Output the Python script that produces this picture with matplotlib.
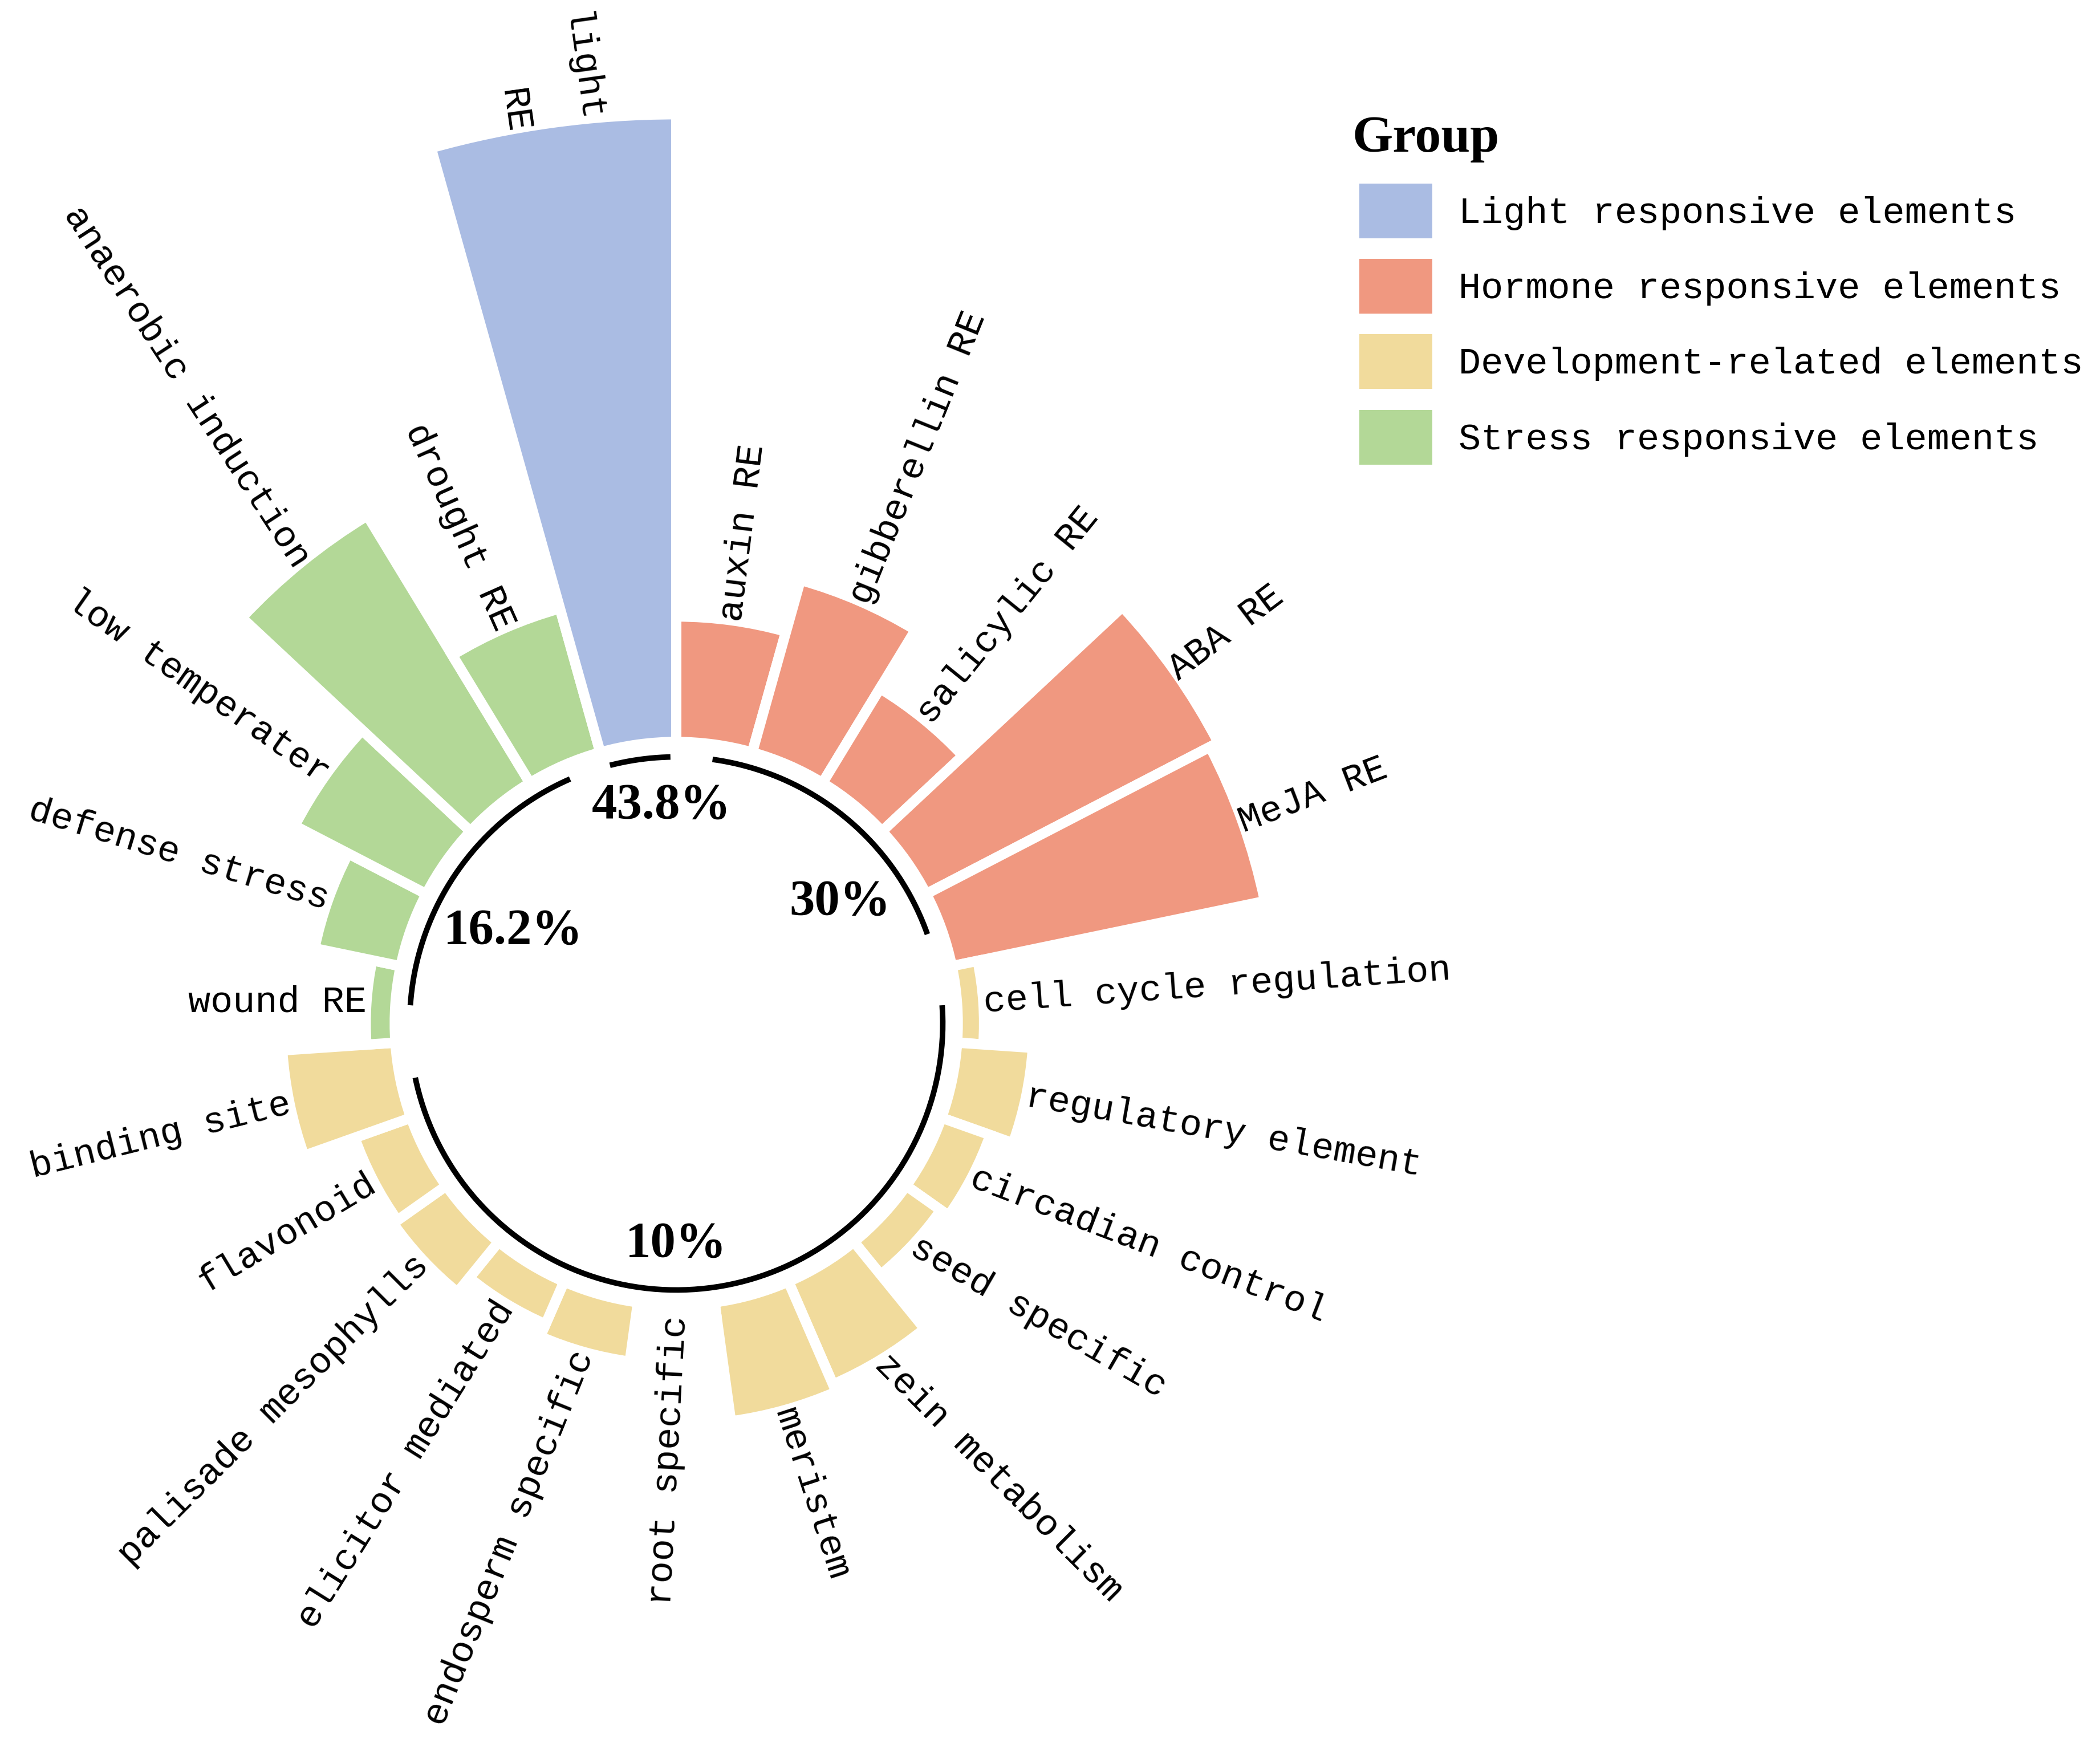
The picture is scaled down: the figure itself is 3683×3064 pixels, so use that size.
import numpy as np
import matplotlib
matplotlib.use("Agg")
import matplotlib.pyplot as plt
from matplotlib.patches import Patch

# element names, clockwise from 12 o'clock
labels = ["auxin RE", "gibberellin RE", "salicylic RE", "ABA RE", "MeJA RE",
          "cell cycle regulation", "regulatory element", "circadian control",
          "seed specific", "zein metabolism", "meristem", "root specific",
          "endosperm specific", "elicitor mediated", "palisade mesophylls",
          "flavonoid", "binding site",
          "wound RE", "defense stress", "low temperater", "anaerobic induction",
          "drought RE",
          "light\nRE"]
groups = (["Hormone"] * 5 + ["Development"] * 12 + ["Stress"] * 5 + ["Light"])
# bar heights (radial length)
heights = [86, 126, 75, 238, 231,
           12, 49, 31, 24, 76, 82, 0, 37, 27, 41, 37, 77,
           14, 58, 103, 226, 104,
           461]
# text angle of each label as it appears in the picture (degrees)
label_rot = [83, 68, 51, 37, 21,
             4, -10, -21, -30, -45, -72, 87, 68, 58, 45, 31, 14,
             0, -17, -35, -57, -66,
             -82]

group_names = ["Light", "Hormone", "Development", "Stress"]
legend_labels = ["Light responsive elements", "Hormone responsive elements",
                 "Development-related elements", "Stress responsive elements"]
group_colors = ["#AABCE3", "#F09880", "#F1DB9C", "#B3D897"]
group_pct = ["43.8%", "30%", "10%", "16.2%"]
# where the percent labels sit (angle in degrees, radius)
pct_pos = [(-3.9, 163), (53.5, 152), (180, 165), (299.5, 140)]

color_of = dict(zip(group_names, group_colors))
colors = [color_of[g] for g in groups]

W, H = 3683, 3064
fig = plt.figure(figsize=(W / 100, H / 100), dpi=100)

scale = 2.349          # pixels per radial unit
cx, cy = 1186, 1795    # circle centre in pixels
rmax = 700
R = rmax * scale
ax = fig.add_axes([(cx - R) / W, (H - cy - R) / H, 2 * R / W, 2 * R / H],
                  projection="polar")
ax.set_theta_zero_location("N")
ax.set_theta_direction(-1)
ax.set_ylim(0, rmax)
ax.set_axis_off()

n = len(labels)
width = 2 * np.pi / n
theta = (np.arange(n) + 0.5) * width
h = np.array(heights, dtype=float)

edge_lw = 13
half_gap = edge_lw / 72 * 100 / scale / 2
inner = 214
ax.bar(theta, h + 2 * half_gap, width=width, bottom=inner - half_gap,
       color=colors, edgecolor="white", linewidth=edge_lw, zorder=2)

# black arcs under each group
ring = 199
for g in group_names:
    idx = [i for i, gg in enumerate(groups) if gg == g]
    t0, t1 = theta[idx[0]], theta[idx[-1]]
    if len(idx) == 1:
        t0 -= 0.42 * width
        t1 += 0.42 * width
    tt = np.linspace(t0, t1, 200)
    ax.plot(tt, np.full_like(tt, ring), color="black", lw=7,
            solid_capstyle="butt", zorder=3)

# labels
for t, lab, hh, rot in zip(theta, labels, h, label_rot):
    deg = np.degrees(t)
    r = (inner + hh) * np.cos(width / 2) + 6
    ha = "left" if deg < 179 else "right"
    ax.text(t, r, lab, rotation=rot, rotation_mode="anchor", ha=ha,
            va="center", multialignment=ha, fontsize=47,
            family="Liberation Mono", linespacing=2.45)

for s, (tdeg, r) in zip(group_pct, pct_pos):
    ax.text(np.radians(tdeg), r, s, ha="center", va="center", fontsize=64,
            fontweight="bold", family="Liberation Serif")

fig.text(2372 / W, 1 - 266 / H, "Group", ha="left", va="baseline",
         fontsize=66, fontweight="bold", family="Liberation Serif")

handles = [Patch(facecolor=c, edgecolor="none") for c in group_colors]
fig.legend(handles, legend_labels, loc="upper left",
           bbox_to_anchor=(2384 / W, 1 - 322 / H), frameon=False,
           prop={"family": "Liberation Mono", "size": 47},
           handlelength=1.96, handleheight=1.885, handletextpad=0.7,
           labelspacing=0.555, borderpad=0, borderaxespad=0)

fig.savefig("out.png", dpi=100)
